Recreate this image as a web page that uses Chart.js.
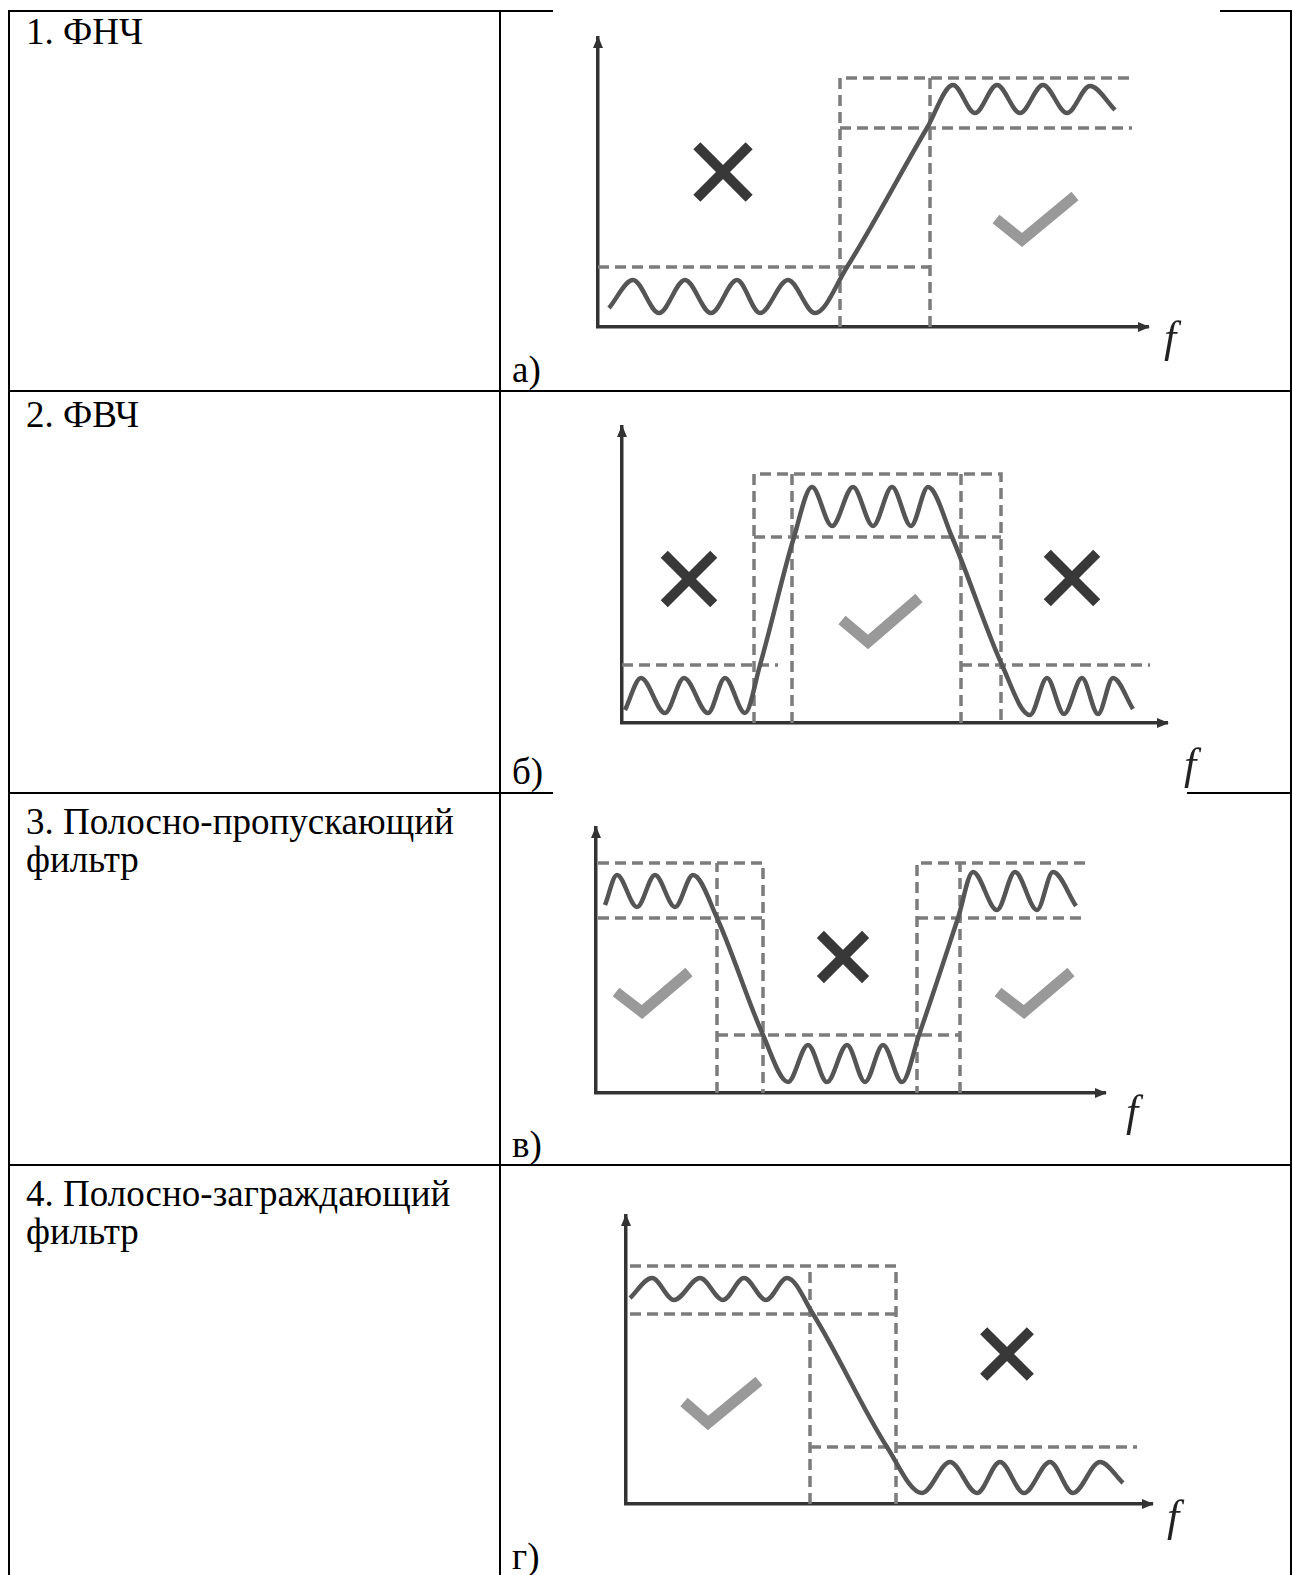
<!DOCTYPE html>
<html>
<head>
<meta charset="utf-8">
<script src="https://cdn.jsdelivr.net/npm/chart.js@4.4.1/dist/chart.umd.min.js"></script>
<style>
  html, body { margin: 0; padding: 0; background: #fff; }
  #page { position: relative; width: 1293px; height: 1575px; overflow: hidden; }
  .rule { position: absolute; background: #000; }
  .txt { position: absolute; font-size: 37px; line-height: 38px; color: #000; white-space: nowrap; }
  canvas { position: absolute; }
</style>
</head>
<body>
<div id="page">
  <!-- table frame -->
  <div class="rule" style="left:8px;top:10px;width:2px;height:1565px"></div>
  <div class="rule" style="left:499px;top:10px;width:2px;height:1565px"></div>
  <div class="rule" style="left:1290px;top:10px;width:2px;height:1565px"></div>
  <div class="rule" style="left:8px;top:10px;width:545px;height:2px"></div>
  <div class="rule" style="left:1220px;top:10px;width:72px;height:2px"></div>
  <div class="rule" style="left:8px;top:390px;width:1284px;height:2px"></div>
  <div class="rule" style="left:8px;top:792px;width:545px;height:2px"></div>
  <div class="rule" style="left:1187px;top:792px;width:105px;height:2px"></div>
  <div class="rule" style="left:8px;top:1164px;width:1284px;height:2px"></div>

  <div class="txt" style='font-family: "Liberation Serif", serif; left:26px; top:13px'>1. ФНЧ</div>
  <div class="txt" style='font-family: "Liberation Serif", serif; left:26px; top:396px'>2. ФВЧ</div>
  <div class="txt" style='font-family: "Liberation Serif", serif; left:26px; top:803px'>3. Полосно-пропускающий<br>фильтр</div>
  <div class="txt" style='font-family: "Liberation Serif", serif; left:26px; top:1175px'>4. Полосно-заграждающий<br>фильтр</div>

  <div class="txt" style='font-family: "Liberation Serif", serif; left:512px; top:351px'>а)</div>
  <div class="txt" style='font-family: "Liberation Serif", serif; left:512px; top:753px'>б)</div>
  <div class="txt" style='font-family: "Liberation Serif", serif; left:512px; top:1126px'>в)</div>
  <div class="txt" style='font-family: "Liberation Serif", serif; left:512px; top:1538px'>г)</div>

  <canvas id="chartA"></canvas>
  <canvas id="chartB"></canvas>
  <canvas id="chartC"></canvas>
  <canvas id="chartD"></canvas>
</div>
<script>
// values: [frequency, level] measured from each diagram's origin
const aCurve = [[11,19],[35,47],[61,14],[87,47],[113,14],[139,47],[162,14],[190,47],[217,14],
  [249,60],[329,199],[355,242],[377,214],[399,242],[422,214],[445,242],[469,214],[492,241],[517,217]];
const aGuides = [[[242,0],[242,249],[534,249]], [[242,199],[534,199]], [[332,0],[332,249]], [[0,60],[332,60]]];
const aCross = [[125,155]];
const aTicks = [[[398,108],[424,87],[477,131]]];

const bCurve = [[3,13],[19,45],[43,10],[62,45],[86,10],[103,45],[123,10],[138,58],[172,186],
  [190,236],[210,197],[231,236],[251,197],[270,236],[289,197],[306,236],[330,186],[380,58],
  [408,8],[425,45],[442,9],[460,45],[476,9],[491,45],[511,14]];
const bGuides = [[[132,0],[132,249],[379,249],[379,0]], [[170,0],[170,249]], [[339,0],[339,249]],
  [[132,186],[379,186]], [[0,58],[156,58]], [[339,58],[528,58]]];
const bCross = [[67,144],[450,145]];
const bTicks = [[[220,103],[246,81],[297,125]]];

const cCurve = [[9,188],[21,218],[41,186],[59,218],[79,186],[97,218],[121,175],[167,58],
  [192,11],[212,48],[231,11],[251,48],[269,11],[287,48],[306,11],[323,58],[362,175],
  [377,221],[401,183],[419,221],[441,183],[457,221],[480,187]];
const cGuides = [[[2,230],[167,230],[167,0]], [[121,0],[121,230]], [[2,175],[167,175]],
  [[489,230],[321,230],[321,0]], [[364,0],[364,230]], [[321,175],[489,175]], [[121,58],[364,58]]];
const cCross = [[247,136]];
const cTicks = [[[20,101],[46,81],[93,121]], [[402,101],[428,81],[475,121]]];

const dCurve = [[4,206],[26,226],[48,204],[74,226],[97,204],[118,226],[140,204],[161,226],
  [187,190],[261,57],[296,11],[324,42],[351,11],[374,42],[398,11],[424,42],[447,11],[474,42],[497,21]];
const dGuides = [[[4,238],[270,238],[270,0]], [[184,0],[184,238]], [[4,190],[270,190]], [[184,57],[511,57]]];
const dCross = [[381,150]];
const dTicks = [[[58,102],[82,81],[133,123]]];

const AXIS = '#333333';
const CURVE = '#555555';
const GUIDE = '#7c7c7c';
const CROSS = '#383838';
const TICK = '#999999';

const panels = [
  {id: 'chartA', origin: [598, 327], axes: [550, 289], curve: aCurve, guides: aGuides, crosses: aCross, crossSize: 37, ticks: aTicks, f: [16, 25]},
  {id: 'chartB', origin: [622, 723], axes: [545, 296], curve: bCurve, guides: bGuides, crosses: bCross, crossSize: 35, ticks: bTicks, f: [17, 56]},
  {id: 'chartC', origin: [596, 1093], axes: [509, 265], curve: cCurve, guides: cGuides, crosses: cCross, crossSize: 32, ticks: cTicks, f: [21, 33]},
  {id: 'chartD', origin: [626, 1504], axes: [526, 288], curve: dCurve, guides: dGuides, crosses: dCross, crossSize: 33, ticks: dTicks, f: [15, 27]},
];

const pts = (list) => list.map(([x, y]) => ({x, y}));
const paths = (list) => {
  const out = [];
  list.forEach((p, i) => {
    if (i) out.push({x: NaN, y: NaN});
    p.forEach(([x, y]) => out.push({x, y}));
  });
  return out;
};

// arrow heads and the "f" label
const axisDecor = {
  id: 'axisDecor',
  afterDraw(chart, args, opts) {
    const {ctx, chartArea: {left, right, top, bottom}} = chart;
    ctx.save();
    ctx.fillStyle = AXIS;
    ctx.beginPath();
    ctx.moveTo(right + 2, bottom);
    ctx.lineTo(right - 10, bottom - 5);
    ctx.lineTo(right - 10, bottom + 5);
    ctx.closePath();
    ctx.moveTo(left, top - 2);
    ctx.lineTo(left - 5, top + 10);
    ctx.lineTo(left + 5, top + 10);
    ctx.closePath();
    ctx.fill();
    ctx.font = 'italic 44px "Liberation Serif", serif';
    ctx.fillStyle = '#222';
    ctx.textBaseline = 'alphabetic';
    ctx.fillText('f', right + opts.dx, bottom + opts.dy);
    ctx.restore();
  },
};

const PAD = {left: 40, top: 15, right: 80, bottom: 75};

const axisOpts = (max) => ({
  type: 'linear',
  min: 0,
  max: max,
  grid: { display: false, drawTicks: false, tickLength: 0 },
  ticks: { display: false },
  border: { display: true, color: AXIS, width: 3.5 },
});

panels.forEach((p) => {
  const canvas = document.getElementById(p.id);
  canvas.width = p.axes[0] + PAD.left + PAD.right;
  canvas.height = p.axes[1] + PAD.top + PAD.bottom;
  canvas.style.left = (p.origin[0] - PAD.left) + 'px';
  canvas.style.top = (p.origin[1] - p.axes[1] - PAD.top) + 'px';

  new Chart(canvas, {
    type: 'line',
    data: {
      datasets: [
        {
          data: paths(p.guides),
          borderColor: GUIDE,
          borderWidth: 3.5,
          borderDash: [11, 6],
          pointRadius: 0,
          spanGaps: false,
          clip: false,
          order: 3,
        },
        {
          data: pts(p.curve),
          borderColor: CURVE,
          borderWidth: 4.5,
          cubicInterpolationMode: 'monotone',
          capBezierPoints: false,
          pointRadius: 0,
          clip: false,
          order: 1,
        },
        {
          data: paths(p.ticks),
          borderColor: TICK,
          borderWidth: 11,
          borderJoinStyle: 'miter',
          borderCapStyle: 'butt',
          pointRadius: 0,
          spanGaps: false,
          clip: false,
          order: 2,
        },
        {
          data: pts(p.crosses),
          showLine: false,
          pointStyle: 'crossRot',
          pointRadius: p.crossSize,
          pointHoverRadius: p.crossSize,
          pointBorderWidth: 10,
          pointBorderColor: CROSS,
          pointBackgroundColor: CROSS,
          clip: false,
          order: 2,
        },
      ],
    },
    options: {
      responsive: false,
      devicePixelRatio: 1,
      animation: false,
      events: [],
      layout: { autoPadding: false, padding: PAD },
      scales: { x: axisOpts(p.axes[0]), y: axisOpts(p.axes[1]) },
      plugins: {
        legend: { display: false },
        tooltip: { enabled: false },
        axisDecor: { dx: p.f[0], dy: p.f[1] },
      },
    },
    plugins: [axisDecor],
  });
});
</script>
</body>
</html>
